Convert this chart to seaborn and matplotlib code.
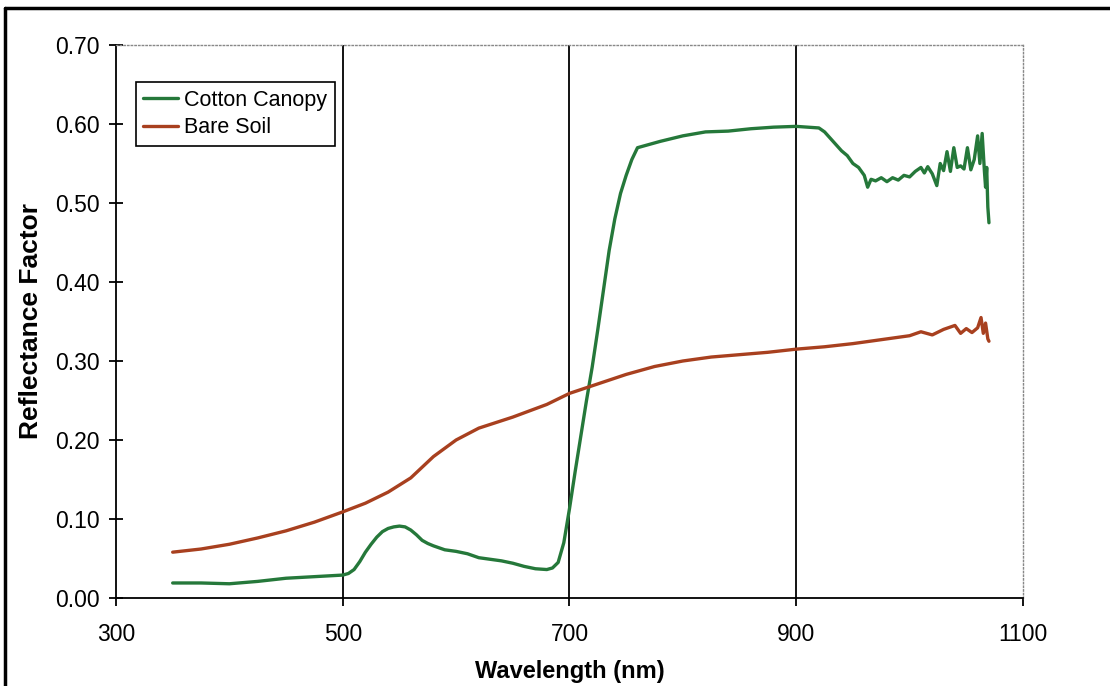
import numpy as np
import pandas as pd
import matplotlib
matplotlib.use('Agg')
import matplotlib.pyplot as plt
from matplotlib.lines import Line2D
import seaborn as sns

# 데이터
cotton_nm = [350, 375, 400, 425, 450, 475, 500, 505, 510, 515, 520, 525, 530, 535, 540,
             545, 550, 555, 560, 565, 570, 575, 580, 590, 600, 610, 620, 630, 640, 650,
             660, 670, 680, 685, 690, 695, 700, 705, 710, 715, 720, 725, 730, 735, 740,
             745, 750, 755, 760, 770, 780, 800, 820, 840, 860, 880, 900, 910, 920, 925,
             930, 935, 940, 945, 950, 955, 960, 963, 966, 970, 975, 980, 985, 990, 995,
             1000, 1005, 1010, 1013, 1016, 1020, 1024, 1027, 1030, 1033, 1036, 1039, 1042,
             1045, 1048, 1051, 1054, 1057, 1060, 1062, 1064, 1066, 1067, 1068, 1069, 1070]
cotton_val = [0.019, 0.019, 0.018, 0.021, 0.025, 0.027, 0.029, 0.031, 0.036, 0.046, 0.058, 0.068, 0.077, 0.084, 0.088,
              0.090, 0.091, 0.090, 0.086, 0.080, 0.073, 0.069, 0.066, 0.061, 0.059, 0.056, 0.051, 0.049, 0.047, 0.044,
              0.040, 0.037, 0.036, 0.038, 0.045, 0.070, 0.113, 0.160, 0.205, 0.250, 0.292, 0.340, 0.390, 0.440, 0.480,
              0.512, 0.535, 0.555, 0.570, 0.574, 0.578, 0.585, 0.590, 0.591, 0.594, 0.596, 0.597, 0.596, 0.595, 0.590,
              0.582, 0.574, 0.566, 0.560, 0.550, 0.545, 0.535, 0.520, 0.530, 0.528, 0.532, 0.527, 0.532, 0.529, 0.535,
              0.533, 0.540, 0.545, 0.538, 0.546, 0.537, 0.522, 0.550, 0.541, 0.565, 0.540, 0.570, 0.545, 0.547, 0.543,
              0.570, 0.542, 0.555, 0.585, 0.550, 0.588, 0.540, 0.520, 0.545, 0.495, 0.475]

soil_nm = [350, 375, 400, 425, 450, 475, 500, 520, 540, 560, 580, 600, 620, 650, 680,
           700, 725, 750, 775, 800, 825, 850, 875, 900, 925, 950, 975, 1000, 1010, 1020,
           1030, 1040, 1045, 1050, 1055, 1060, 1063, 1065, 1067, 1069, 1070]
soil_val = [0.058, 0.062, 0.068, 0.076, 0.085, 0.096, 0.109, 0.120, 0.134, 0.152, 0.179, 0.200, 0.215, 0.229, 0.245,
            0.259, 0.271, 0.283, 0.293, 0.300, 0.305, 0.308, 0.311, 0.315, 0.318, 0.322, 0.327, 0.332, 0.337, 0.333,
            0.340, 0.345, 0.335, 0.341, 0.336, 0.342, 0.355, 0.335, 0.348, 0.328, 0.325]

df = pd.concat([
    pd.DataFrame({'nm': cotton_nm, 'val': cotton_val, 'series': 'Cotton Canopy'}),
    pd.DataFrame({'nm': soil_nm, 'val': soil_val, 'series': 'Bare Soil'}),
])

sns.set_style('white')
plt.rcParams['font.family'] = ['Liberation Sans', 'DejaVu Sans']
plt.rcParams['text.color'] = 'black'

fig = plt.figure(figsize=(11.1, 6.86), dpi=100)
ax = fig.add_axes([0.1045, 0.1283, 0.8171, 0.8061])

# 세로 격자선
for xv in [500, 700, 900]:
    ax.axvline(xv, color='black', lw=1.3, zorder=1)

sns.lineplot(data=df, x='nm', y='val', hue='series', sort=False,
             palette={'Cotton Canopy': '#25783a', 'Bare Soil': '#a8401f'},
             lw=2.4, ax=ax, zorder=3, estimator=None)

ax.set_xlim(300, 1100)
ax.set_ylim(0, 0.70)
ax.set_xticks([300, 500, 700, 900, 1100])
ax.set_yticks(np.arange(0, 0.71, 0.1))
ax.set_yticklabels([f'{v:.2f}' for v in np.arange(0, 0.71, 0.1)])
ax.tick_params(axis='y', direction='inout', length=10, width=1.3, labelsize=16.5,
               color='black', labelcolor='black', pad=6.5)
ax.tick_params(axis='x', direction='out', length=6, width=1.3, labelsize=16.5,
               color='black', labelcolor='black', pad=12)
ax.tick_params(left=True, bottom=True)

for s in ['left', 'bottom']:
    ax.spines[s].set_color('black')
    ax.spines[s].set_linewidth(1.3)
for s in ['top', 'right']:
    ax.spines[s].set_color('#888888')
    ax.spines[s].set_linewidth(1.0)
    ax.spines[s].set_linestyle(':')

ax.set_xlabel('Wavelength (nm)', fontsize=17, fontweight='bold', labelpad=10, color='black')
ax.set_ylabel('Reflectance Factor', fontsize=19, fontweight='bold', labelpad=9, color='black')

leg = ax.legend(loc='upper left', bbox_to_anchor=(0.022, 0.933), borderaxespad=0,
                fontsize=15.5, frameon=True, fancybox=False, shadow=False,
                handlelength=1.6, borderpad=0.35, labelspacing=0.3, handletextpad=0.3)
leg.get_frame().set_edgecolor('black')
leg.get_frame().set_linewidth(1.2)
leg.get_frame().set_alpha(1)
for t in leg.get_texts():
    t.set_color('black')

# 바깥 테두리
fig.add_artist(Line2D([5 / 1110, 5 / 1110], [0, 1 - 8 / 686], color='black', lw=2.5, transform=fig.transFigure))
fig.add_artist(Line2D([5 / 1110, 1], [1 - 8 / 686, 1 - 8 / 686], color='black', lw=2.5, transform=fig.transFigure))

fig.savefig('out.png', dpi=100)
